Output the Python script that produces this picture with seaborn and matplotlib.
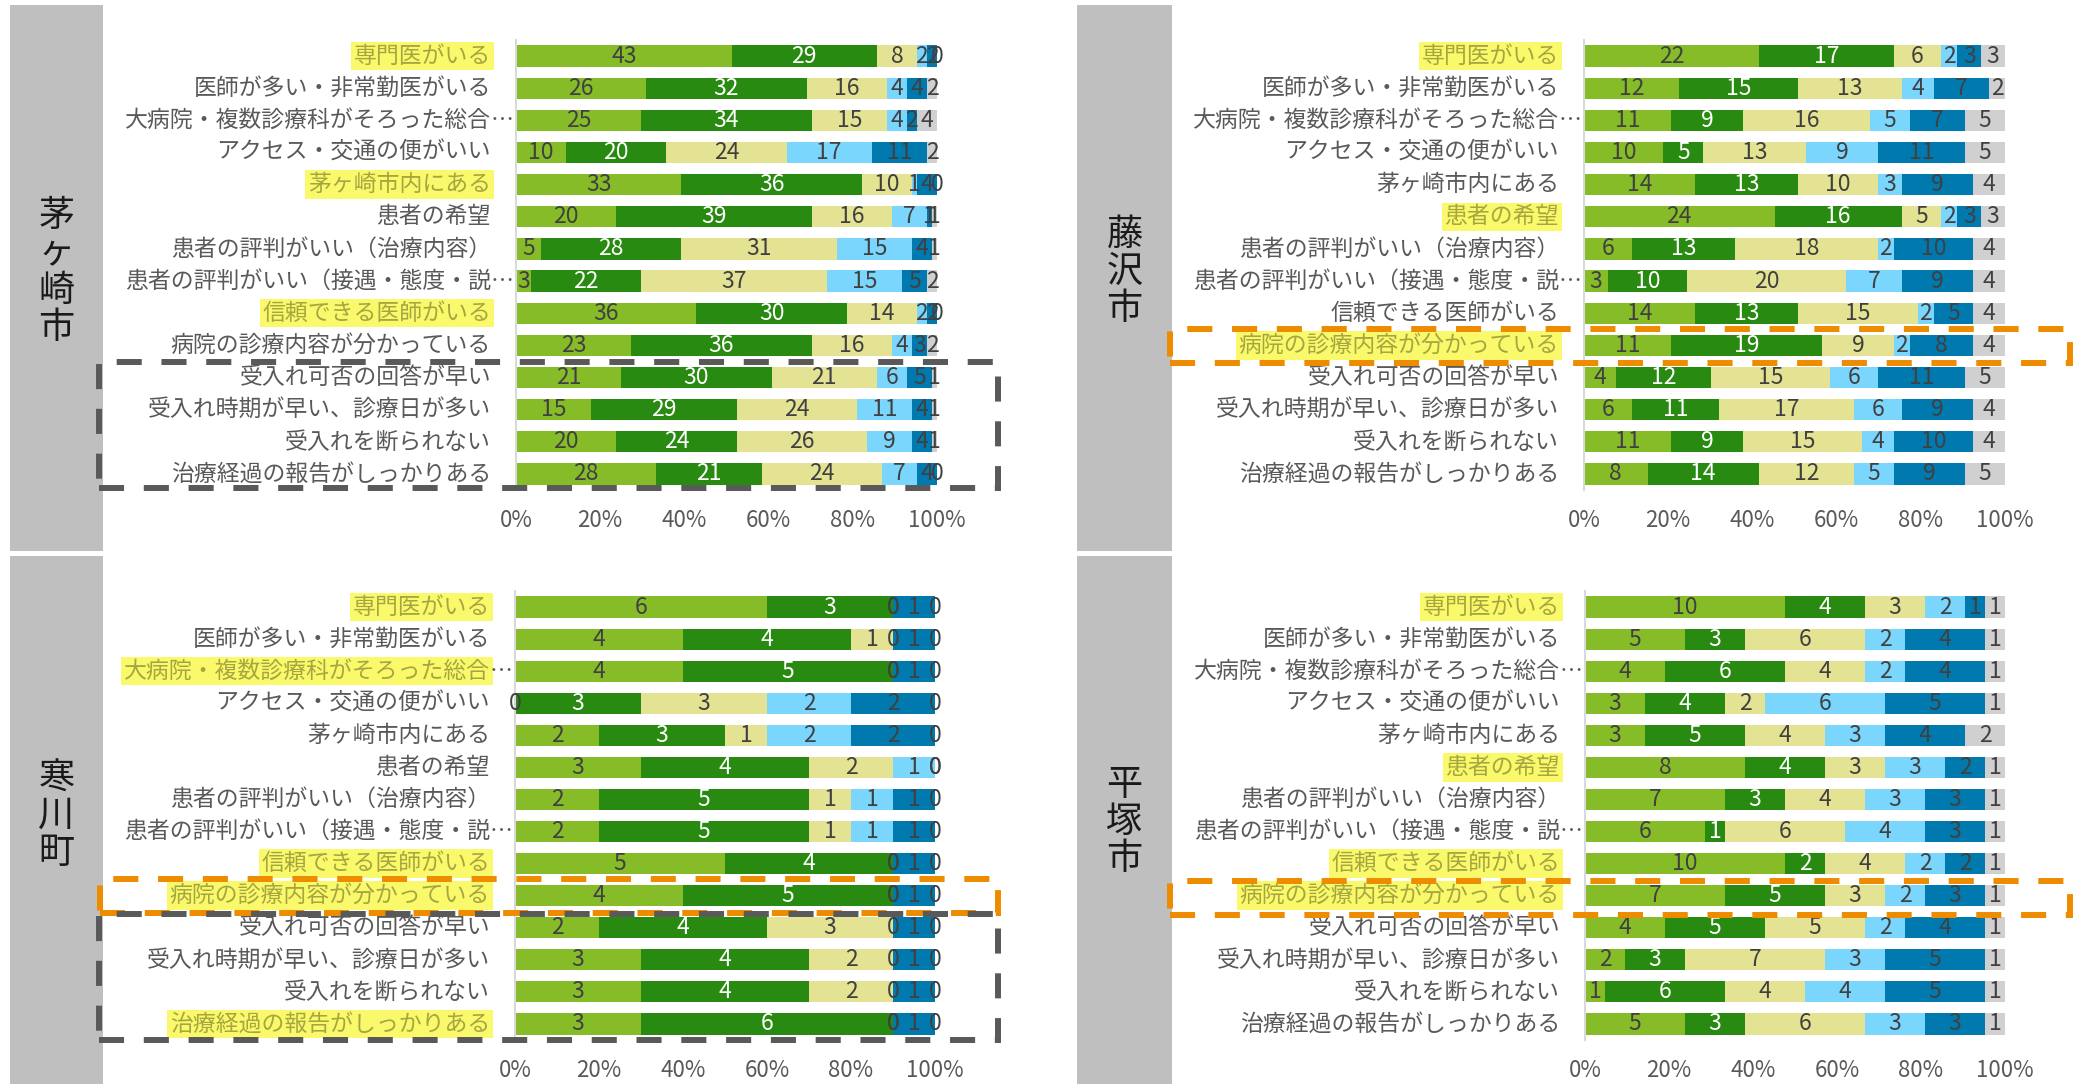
import numpy as np
import pandas as pd
import matplotlib
matplotlib.use("Agg")
import matplotlib.pyplot as plt
from matplotlib.patches import Rectangle
import seaborn as sns

sns.set_style("white")
plt.rcParams['font.family'] = ['Noto Sans CJK JP', 'DejaVu Sans']

# ---- data ----
items = ['専門医がいる', '医師が多い・非常勤医がいる', '大病院・複数診療科がそろった総合…',
         'アクセス・交通の便がいい', '茅ヶ崎市内にある', '患者の希望',
         '患者の評判がいい（治療内容）', '患者の評判がいい（接遇・態度・説…',
         '信頼できる医師がいる', '病院の診療内容が分かっている', '受入れ可否の回答が早い',
         '受入れ時期が早い、診療日が多い', '受入れを断られない', '治療経過の報告がしっかりある']

colors = ['#86BC28', '#288A10', '#E3E393', '#7AD6FD', '#0079AF', '#D0D0D0']

chigasaki = [[43, 29, 8, 2, 2, 0], [26, 32, 16, 4, 4, 2], [25, 34, 15, 4, 2, 4],
             [10, 20, 24, 17, 11, 2], [33, 36, 10, 1, 4, 0], [20, 39, 16, 7, 1, 1],
             [5, 28, 31, 15, 4, 1], [3, 22, 37, 15, 5, 2], [36, 30, 14, 2, 2, 0],
             [23, 36, 16, 4, 3, 2], [21, 30, 21, 6, 5, 1], [15, 29, 24, 11, 4, 1],
             [20, 24, 26, 9, 4, 1], [28, 21, 24, 7, 4, 0]]
fujisawa = [[22, 17, 6, 2, 3, 3], [12, 15, 13, 4, 7, 2], [11, 9, 16, 5, 7, 5],
            [10, 5, 13, 9, 11, 5], [14, 13, 10, 3, 9, 4], [24, 16, 5, 2, 3, 3],
            [6, 13, 18, 2, 10, 4], [3, 10, 20, 7, 9, 4], [14, 13, 15, 2, 5, 4],
            [11, 19, 9, 2, 8, 4], [4, 12, 15, 6, 11, 5], [6, 11, 17, 6, 9, 4],
            [11, 9, 15, 4, 10, 4], [8, 14, 12, 5, 9, 5]]
samukawa = [[6, 3, 0, 0, 1, 0], [4, 4, 1, 0, 1, 0], [4, 5, 0, 0, 1, 0],
            [0, 3, 3, 2, 2, 0], [2, 3, 1, 2, 2, 0], [3, 4, 2, 1, 0, 0],
            [2, 5, 1, 1, 1, 0], [2, 5, 1, 1, 1, 0], [5, 4, 0, 0, 1, 0],
            [4, 5, 0, 0, 1, 0], [2, 4, 3, 0, 1, 0], [3, 4, 2, 0, 1, 0],
            [3, 4, 2, 0, 1, 0], [3, 6, 0, 0, 1, 0]]
hiratsuka = [[10, 4, 3, 2, 1, 1], [5, 3, 6, 2, 4, 1], [4, 6, 4, 2, 4, 1],
             [3, 4, 2, 6, 5, 1], [3, 5, 4, 3, 4, 2], [8, 4, 3, 3, 2, 1],
             [7, 3, 4, 3, 3, 1], [6, 1, 6, 4, 3, 1], [10, 2, 4, 2, 2, 1],
             [7, 5, 3, 2, 3, 1], [4, 5, 5, 2, 4, 1], [2, 3, 7, 3, 5, 1],
             [1, 6, 4, 4, 5, 1], [5, 3, 6, 3, 3, 1]]

hl_chigasaki = [0, 4, 8]
hl_fujisawa = [0, 5, 9]
hl_samukawa = [0, 2, 8, 9, 13]
hl_hiratsuka = [0, 5, 8, 9]

W, H = 2087, 1084
fig = plt.figure(figsize=(W / 100, H / 100), dpi=100)


def fig_rect(x0, y0, x1, y1, **kw):
    r = Rectangle((x0 / W, 1 - y1 / H), (x1 - x0) / W, (y1 - y0) / H,
                  transform=fig.transFigure, **kw)
    fig.patches.append(r)


panels = [
    ('茅\nヶ\n崎\n市', chigasaki, hl_chigasaki, (516, 40, 937, 490), (10, 5, 103, 551), 272),
    ('藤\n沢\n市', fujisawa, hl_fujisawa, (1584, 40, 2005, 490), (1077, 5, 1172, 551), 272),
    ('寒\n川\n町', samukawa, hl_samukawa, (515, 591, 935, 1040), (10, 556, 103, 1084), 816),
    ('平\n塚\n市', hiratsuka, hl_hiratsuka, (1585, 591, 2005, 1040), (1077, 556, 1172, 1084), 822),
]

txt_gray = '#595959'
hl_text = '#A6A640'
hl_fc = '#FAF96C'

for city, vals, hls, box, strip, cy in panels:
    x0, y0, x1, y1 = box
    ax = fig.add_axes([x0 / W, 1 - y1 / H, (x1 - x0) / W, (y1 - y0) / H])
    v = np.array(vals, dtype=float)
    pct = v / v.sum(axis=1, keepdims=True) * 100
    cum = pct.cumsum(axis=1)
    for i in reversed(range(6)):
        df = pd.DataFrame({'item': items, 'cum': cum[:, i]})
        sns.barplot(data=df, x='cum', y='item', color=colors[i], orient='h',
                    width=0.66, saturation=1, linewidth=0, ax=ax)
    # value labels
    for r in range(len(items)):
        for i in range(6):
            xc = cum[r, i] - pct[r, i] / 2
            ax.text(xc, r, str(int(vals[r][i])), ha='center', va='center',
                    fontsize=16.5, color='white' if i == 1 else '#404040')
    ax.set_xlim(0, 100)
    ax.set_xticks([0, 20, 40, 60, 80, 100])
    ax.set_xticklabels([f'{t}%' for t in [0, 20, 40, 60, 80, 100]])
    ax.tick_params(axis='x', length=0, pad=14, labelsize=16, labelcolor=txt_gray)
    ax.tick_params(axis='y', length=0, labelleft=False)
    ax.set_xlabel('')
    ax.set_ylabel('')
    for s in ['top', 'right', 'bottom']:
        ax.spines[s].set_visible(False)
    ax.spines['left'].set_color('#D9D9D9')
    ax.spines['left'].set_linewidth(1.5)
    # category labels
    tr = ax.get_yaxis_transform()
    ax_w = x1 - x0
    anchor = -25 / ax_w
    for r, lab in enumerate(items):
        hl = r in hls
        kw = dict(fontsize=16.5, va='center', transform=tr, clip_on=False,
                  color=hl_text if hl else txt_gray)
        if hl:
            kw['bbox'] = dict(boxstyle='square,pad=0.12', fc=hl_fc, ec='none')
        if lab.endswith('…'):
            ax.text(anchor, r, lab[:-1], ha='right', **kw)
            ax.text(anchor, r, '…', ha='left', fontsize=16.5, va='center',
                    transform=tr, clip_on=False, color=txt_gray)
        else:
            ax.text(anchor, r, lab, ha='right', **kw)
    # city strip
    sx0, sy0, sx1, sy1 = strip
    fig_rect(sx0, sy0, sx1, sy1, fc='#BFBFBF', ec='none')
    fig.text((sx0 + sx1) / 2 / W, 1 - cy / H, city, ha='center', va='center',
             fontsize=26, color='#1A1A1A', linespacing=1.05)

# dashed boxes
dash = (0, (4.2, 3.3))
for (bx0, by0, bx1, by1), col in [((99, 362, 998, 488), '#595959'),
                                  ((100, 879, 998, 913), '#EE8C00'),
                                  ((99, 914, 998, 1040), '#595959'),
                                  ((1170, 329, 2070, 363), '#EE8C00'),
                                  ((1170, 881, 2070, 915), '#EE8C00')]:
    fig_rect(bx0, by0, bx1, by1, fill=False, ec=col, lw=4.3, ls=dash, zorder=10)

fig.savefig('out.png', dpi=100)
